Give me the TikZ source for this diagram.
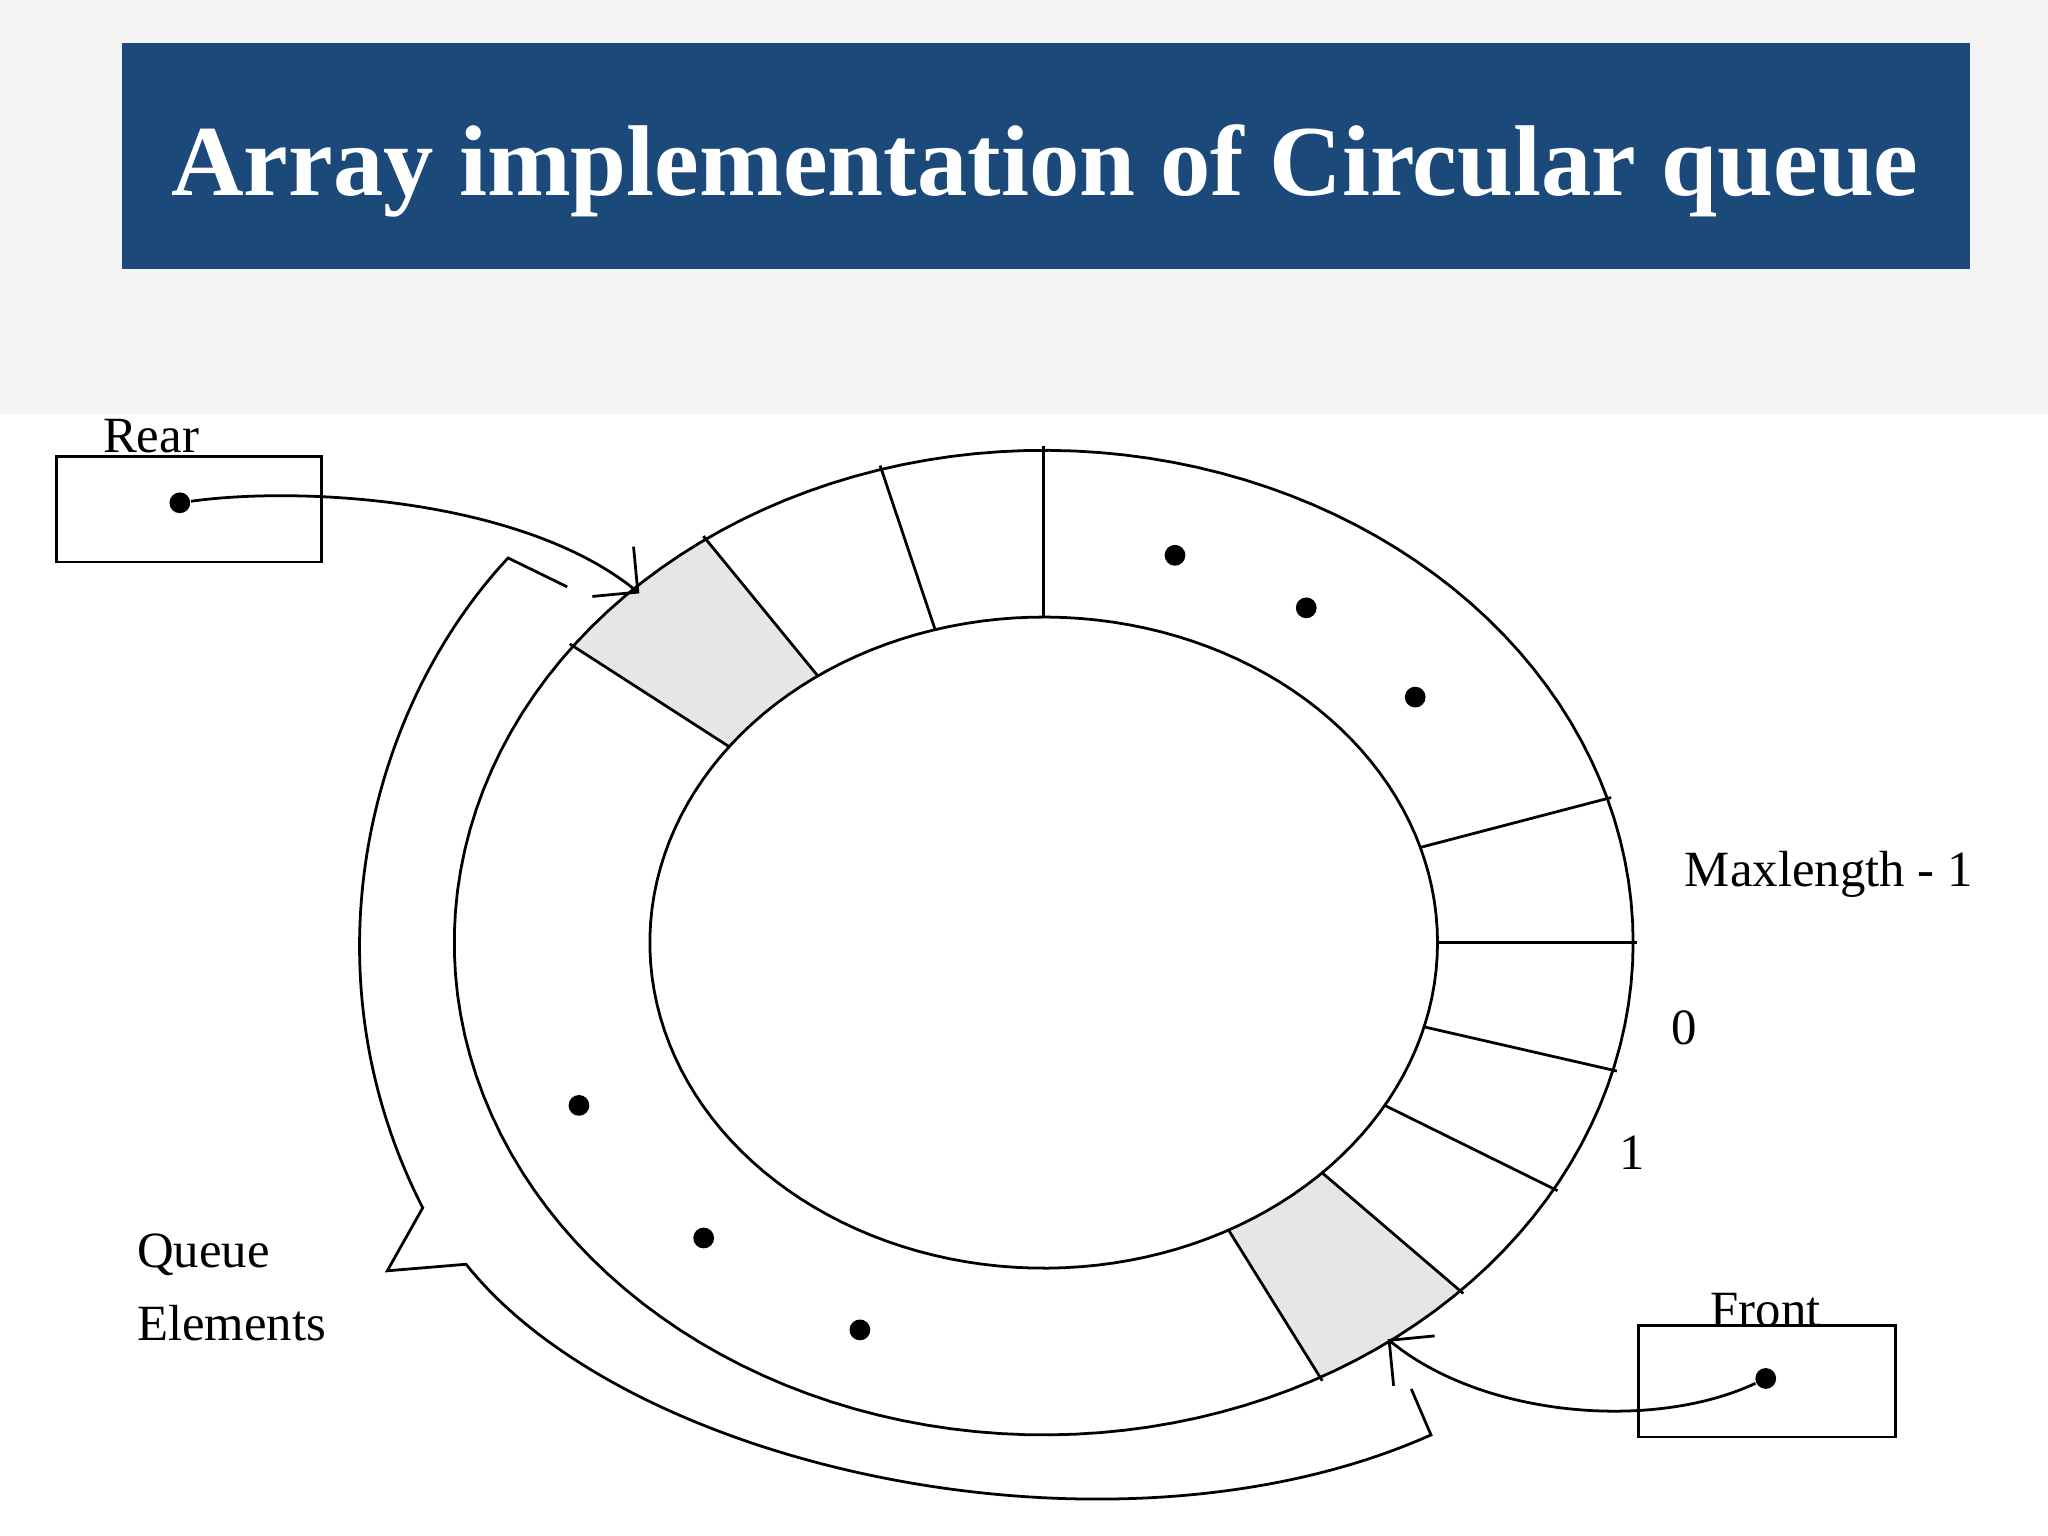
\documentclass[tikz,border=0pt]{standalone}
\usepackage{fontspec}
\setmainfont{Liberation Serif}
\usetikzlibrary{arrows.meta}
\definecolor{titlebg}{HTML}{1B4A7A}
\definecolor{cellgray}{HTML}{E6E6E6}
\begin{document}
\begin{tikzpicture}[x=0.01cm,y=-0.01cm,
  lbl/.style={font=\fontsize{11}{13}\selectfont},
  dotm/.style={circle,fill=black,inner sep=0pt,minimum size=4.5pt},
  ln/.style={line width=0.6pt}]
\useasboundingbox (0,0) rectangle (1560,1170);
\fill[black!4] (0,0) rectangle (1560,315);
\node[fill=titlebg,minimum width=14.07cm,minimum height=1.72cm,inner sep=0pt] (title) at (796.5,119) {};
\node[text=white] at (796,130) {\resizebox{13.3cm}{!}{\textbf{Array implementation of Circular queue}}};
% shaded cells
\fill[cellgray] plot[domain=125:143,samples=20] ({795+449*cos(\x)},{718-375*sin(\x)}) -- plot[domain=143:125,samples=20] ({795+300*cos(\x)},{718-248*sin(\x)}) -- cycle;
\fill[cellgray] plot[domain=-62:-45,samples=20] ({795+449*cos(\x)},{718-375*sin(\x)}) -- plot[domain=-45:-62,samples=20] ({795+300*cos(\x)},{718-248*sin(\x)}) -- cycle;
% ellipses
\draw[ln] plot[domain=0:360,samples=150] ({795+449*cos(\x)},{718-375*sin(\x)}) -- cycle;
\draw[ln] plot[domain=0:360,samples=150] ({795+300*cos(\x)},{718-248*sin(\x)}) -- cycle;
% radial lines
\foreach \t in {0,17,-15,-30,-45,-62,90,106,125,143}
  \draw[ln] ({795+300*cos(\t)},{718-248*sin(\t)}) -- ({795+452*cos(\t)},{718-378*sin(\t)});
% dots
\foreach \p/\n in {{(895,423)}/d1,{(995,463)}/d2,{(1078,531)}/d3,{(441,842)}/d4,{(536,943)}/d5,{(655,1013)}/d6}
  \node[dotm] (\n) at \p {};
% bracket arrow
\draw[ln] (432,447) -- (387,425) .. controls (280,540) and (230,740) .. (322,920) -- (295,968) -- (355,963)
  .. controls (480,1120) and (850,1200) .. (1090,1093) -- (1075,1058);
% boxes
\node[draw,ln,minimum width=2.02cm,minimum height=0.8cm] (rear) at (144,388) {};
\node[draw,ln,minimum width=1.96cm,minimum height=0.85cm] (front) at (1346,1052) {};
\node[dotm] (rd) at (137,383) {};
\node[dotm] (fd) at (1345,1050) {};
\coordinate (rt) at (487,452);
\coordinate (ft) at (1057,1020);
\draw[ln,-{Straight Barb[length=7pt]}] (rd) .. controls (230,370) and (400,380) .. (rt);
\draw[ln,-{Straight Barb[length=7pt]}] (fd) .. controls (1260,1090) and (1130,1080) .. (ft);
% labels
\node[lbl] (lr) at (115,332) {Rear};
\node[lbl] (lm) at (1393,666) {Maxlength - 1};
\node[lbl] (l0) at (1283,783) {0};
\node[lbl] (l1) at (1243,878) {1};
\node[lbl,anchor=west] (lq) at (92,956) {Queue};
\node[lbl,anchor=west] (le) at (92,1008) {Elements};
\node[lbl] (lf) at (1345,998) {Front};
\end{tikzpicture}
\end{document}
